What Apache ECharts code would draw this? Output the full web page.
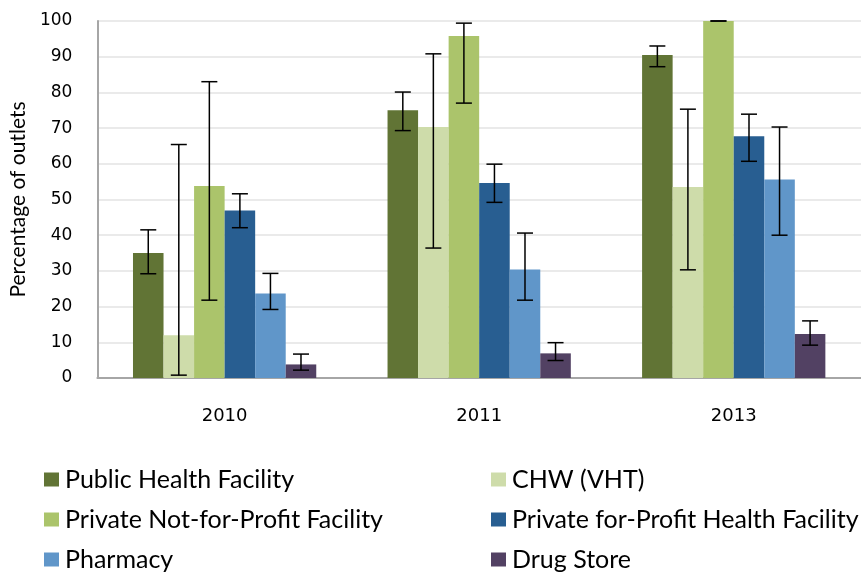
<!DOCTYPE html>
<html>
<head>
<meta charset="utf-8">
<script src="https://cdn.jsdelivr.net/npm/echarts@6/dist/echarts.min.js"></script>
<style>
  html, body { margin: 0; padding: 0; background: #fff; }
  #chart { width: 861px; height: 573px; }
</style>
</head>
<body>
<div id="chart"></div>
<script>
const years = ['2010', '2011', '2013']
const seriesNames = [
  'Public Health Facility',
  'CHW (VHT)',
  'Private Not-for-Profit Facility',
  'Private for-Profit Health Facility',
  'Pharmacy',
  'Drug Store'
]
const colors = ['#617435', '#cedcaa', '#abc46b', '#285e91', '#6096c9', '#524163']

// bar heights per outlet type, one value per year
const publicHealth = [35, 75, 90.5]
const chw = [12, 70.3, 53.5]
const privateNonProfit = [53.8, 95.8, 100]
const privateForProfit = [46.9, 54.6, 67.7]
const pharmacy = [23.7, 30.4, 55.6]
const drugStore = [3.8, 6.9, 12.3]

// error bar lows / highs
const publicHealthErr = [[29.2, 41.5], [69.3, 80.1], [87.2, 93]]
const chwErr = [[0.8, 65.4], [36.4, 90.8], [30.3, 75.3]]
const privateNonProfitErr = [[21.8, 83], [77, 99.4], [100, 100]]
const privateForProfitErr = [[42.1, 51.6], [49.2, 59.9], [60.7, 73.9]]
const pharmacyErr = [[19.2, 29.3], [21.8, 40.6], [40, 70.3]]
const drugStoreErr = [[2.2, 6.7], [4.9, 9.9], [9.2, 16]]

const values = [publicHealth, chw, privateNonProfit, privateForProfit, pharmacy, drugStore]
const errors = [publicHealthErr, chwErr, privateNonProfitErr, privateForProfitErr, pharmacyErr, drugStoreErr]

const font = 'Lato'
const numFont = 'DejaVu Sans'
const catGap = 0.28
const nSeries = seriesNames.length

const chart = echarts.init(document.getElementById('chart'))

const barSeries = seriesNames.map((name, i) => ({
  name,
  type: 'bar',
  data: values[i],
  barGap: '0%',
  barCategoryGap: '28%',
  itemStyle: { color: colors[i] },
  z: 2
}))

const errSeries = seriesNames.map((name, i) => ({
  name: name + ' err',
  type: 'custom',
  data: errors[i].map((e, j) => [j, e[0], e[1]]),
  z: 5,
  silent: true,
  renderItem: function (params, api) {
    const cat = api.value(0)
    const low = api.coord([cat, api.value(1)])
    const high = api.coord([cat, api.value(2)])
    const catWidth = api.size([1, 0])[0]
    const barW = catWidth * (1 - catGap) / nSeries
    const x = low[0] - catWidth * (1 - catGap) / 2 + (i + 0.5) * barW
    const cap = 8
    const style = { stroke: '#000', lineWidth: 1.5 }
    return {
      type: 'group',
      children: [
        { type: 'line', shape: { x1: x, y1: low[1], x2: x, y2: high[1] }, style },
        { type: 'line', shape: { x1: x - cap, y1: low[1], x2: x + cap, y2: low[1] }, style },
        { type: 'line', shape: { x1: x - cap, y1: high[1], x2: x + cap, y2: high[1] }, style }
      ]
    }
  }
}))

// two legend columns, three rows
const legendLefts = [44, 491]
const legendTops = [467, 507, 547]
const legends = seriesNames.map((name, i) => ({
  left: legendLefts[i % 2],
  top: legendTops[Math.floor(i / 2)],
  icon: 'rect',
  itemWidth: 15,
  itemHeight: 14,
  padding: 0,
  data: [name],
  textStyle: { fontFamily: font, fontSize: 25, color: '#000', padding: [0, 0, 0, 1] }
}))

chart.setOption({
  animation: false,
  textStyle: { fontFamily: font },
  grid: { left: 95, right: 0, top: 21, bottom: 195 },
  legend: legends,
  xAxis: {
    type: 'category',
    data: years,
    axisLine: { lineStyle: { color: '#a6a6a6', width: 2 } },
    axisTick: { show: false },
    axisLabel: { color: '#000', fontSize: 18, margin: 29, fontFamily: numFont }
  },
  yAxis: {
    type: 'value',
    min: 0,
    max: 100,
    interval: 10,
    name: 'Percentage of outlets',
    nameLocation: 'middle',
    nameGap: 66,
    nameTextStyle: { color: '#000', fontSize: 21, fontFamily: font },
    axisLine: { show: true, lineStyle: { color: '#a6a6a6', width: 2 } },
    axisTick: { show: false },
    axisLabel: { color: '#000', fontSize: 17, margin: 25, fontFamily: numFont },
    splitLine: { lineStyle: { color: '#e3e3e3', width: 1.5 } }
  },
  series: barSeries.concat(errSeries)
})
</script>
</body>
</html>
